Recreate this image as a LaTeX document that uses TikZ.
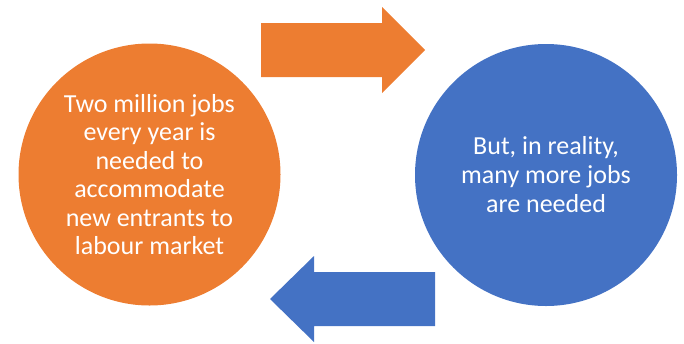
\documentclass[tikz,border=0pt]{standalone}
\usepackage{fontspec}
\setmainfont{Carlito}
\definecolor{offorange}{HTML}{ED7D31}
\definecolor{offblue}{HTML}{4472C4}
\begin{document}
\begin{tikzpicture}[x=1pt,y=-1pt,
  bubble/.style={circle,minimum size=262pt,inner sep=0pt,text=white,align=center,
    font=\fontsize{26}{28.5}\selectfont},
  arrowshape/.style={draw=none}]
\useasboundingbox (0,0) rectangle (684,343);
\node[bubble,fill=offorange] (left) at (149.5,174.5) {Two million jobs\\every year is\\needed to\\accommodate\\new entrants to\\labour market};
\node[bubble,fill=offblue,font=\fontsize{26}{29}\selectfont] (right) at (546,175) {But, in reality,\\many more jobs\\are needed};
\fill[offorange,arrowshape] (261,23) -- (382,23) -- (382,7) -- (425,50) -- (382,93) -- (382,77) -- (261,77) -- cycle;
\fill[offblue,arrowshape] (435,272) -- (314,272) -- (314,256) -- (270,299) -- (314,342) -- (314,326) -- (435,326) -- cycle;
\end{tikzpicture}
\end{document}
